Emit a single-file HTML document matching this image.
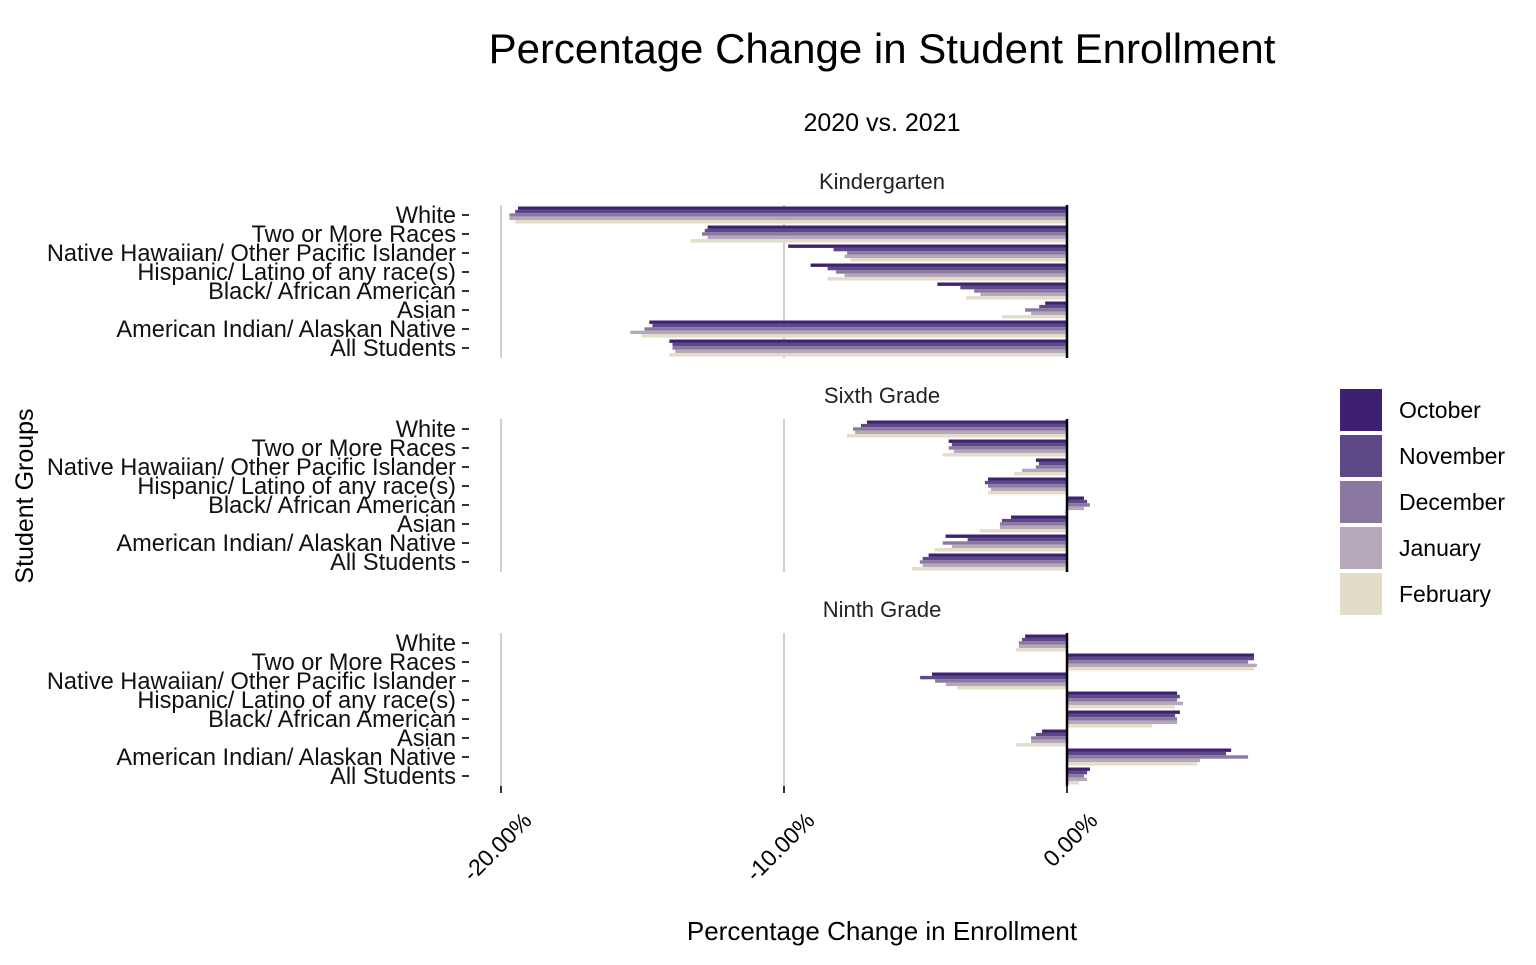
<!DOCTYPE html>
<html><head><meta charset="utf-8"><style>
body{margin:0;background:#fff;font-family:"Liberation Sans",Arial,sans-serif}
</style></head><body>
<svg id="chart" width="1536" height="960" font-family="Liberation Sans, Arial, sans-serif">
<text x="882" y="63" font-size="42" text-anchor="middle">Percentage Change in Student Enrollment</text>
<text x="882" y="131" font-size="25" text-anchor="middle">2020 vs. 2021</text>
<text x="882" y="940" font-size="26" text-anchor="middle">Percentage Change in Enrollment</text>
<text x="33" y="496" font-size="25" text-anchor="middle" transform="rotate(-90 33 496)">Student Groups</text>
<g id="panels"></g>
<g id="legend"></g>
</svg>
<script>
const categories=["White","Two or More Races","Native Hawaiian/ Other Pacific Islander","Hispanic/ Latino of any race(s)","Black/ African American","Asian","American Indian/ Alaskan Native","All Students"];
const months=["October","November","December","January","February"];
const colors=["#3d2070","#5e4988","#8b78a0","#b5a9b9","#e2dcc9"];
const panelNames=["Kindergarten","Sixth Grade","Ninth Grade"];
const kinderValues=[
[-19.4,-19.5,-19.7,-19.7,-19.5],[-12.7,-12.8,-12.9,-12.7,-13.3],[-9.85,-8.25,-7.77,-7.86,-7.65],[-9.06,-8.46,-8.16,-7.86,-8.46],
[-4.58,-3.77,-3.28,-3.06,-3.56],[-0.77,-0.98,-1.48,-1.27,-2.29],[-14.76,-14.65,-14.93,-15.43,-15.04],[-14.05,-13.94,-13.94,-13.84,-14.05]];
const sixthValues=[
[-7.07,-7.28,-7.56,-7.49,-7.77],[-4.18,-4.07,-4.18,-4.0,-4.39],[-1.1,-0.99,-1.1,-1.59,-1.87],[-2.79,-2.9,-2.79,-2.69,-2.79],
[0.6,0.71,0.81,0.6,-0.09],[-1.98,-2.3,-2.37,-2.37,-3.07],[-4.29,-3.51,-4.39,-4.07,-4.68],[-4.89,-5.1,-5.2,-5.1,-5.48]];
const ninthValues=[
[-1.48,-1.59,-1.7,-1.7,-1.8],[6.61,6.61,6.4,6.71,6.61],[-4.77,-5.19,-4.66,-4.28,-3.89],[3.89,3.99,3.89,4.1,3.82],
[3.99,3.82,3.89,3.89,3.0],[-0.88,-1.1,-1.27,-1.27,-1.8],[5.8,5.62,6.4,4.7,4.59],[0.81,0.71,0.6,0.71,0.42]];
const xTicks=[-20,-10,0];
const xTickLabels=["-20.00%","-10.00%","0.00%"];
const allValues=[kinderValues,sixthValues,ninthValues];
const NS="http://www.w3.org/2000/svg";
function xs(v){return 1067+v*28.3;}
const panelTops=[205,419,633];
const rowH=19;
function mk(tag,attrs,parent){const e=document.createElementNS(NS,tag);for(const k in attrs)e.setAttribute(k,attrs[k]);parent.appendChild(e);return e;}
const P=document.getElementById('panels');
panelNames.forEach((pn,pi)=>{
  const top=panelTops[pi],bot=top+153;
  const g=mk('g',{},P);
  
  
  const st=mk('text',{x:882,y:top-16,'font-size':22,'text-anchor':'middle',fill:'#222'},g);
  st.textContent=pn;
  
  
  xTicks.forEach(t=>{
    if(t===0)return;
    const l=mk('line',{x1:xs(t),x2:xs(t),y1:top,y2:bot,stroke:'#d0d0d0','stroke-width':2},g);
    
    
  });
  categories.forEach((c,ci)=>{
    const cy=top+10+ci*rowH;
    const lab=mk('text',{x:456,y:cy+8,'font-size':23.6,'text-anchor':'end',fill:'#111'},g);
    lab.textContent=c;
    
    
    const tk=mk('line',{x1:462,x2:469,y1:cy,y2:cy,stroke:'#333','stroke-width':2},g);
    
    
    allValues[pi][ci].forEach((v,mi)=>{
      const bh=3.4, y=cy-8.5+mi*bh;
      const x0=Math.min(xs(0),xs(v)),w=Math.abs(xs(v)-xs(0));
      const r=mk('rect',{x:x0,y:y,width:w,height:bh,fill:colors[mi]},g);
      
      
    });
  });
  const z=mk('line',{x1:xs(0),x2:xs(0),y1:top,y2:bot,stroke:'#000','stroke-width':2.5},g);
  
  
});
xTicks.forEach((t,i)=>{
  const tk=mk('line',{x1:xs(t),x2:xs(t),y1:786,y2:793,stroke:'#333','stroke-width':2},P);
  
  
  const ax=xs(t)+32, ay=822;
  const tx=mk('text',{x:ax,y:ay,'font-size':23,'text-anchor':'end',transform:'rotate(-45 '+ax+' '+ay+')'},P);
  tx.textContent=xTickLabels[i];
  
  
});
const L=document.getElementById('legend');
months.forEach((m,i)=>{
  const y=389+i*46;
  const r=mk('rect',{x:1340,y:y,width:42,height:42,fill:colors[i]},L);
  
  
  const t=mk('text',{x:1399,y:y+29,'font-size':23},L);
  t.textContent=m;
  
  
});
</script>
</body></html>
